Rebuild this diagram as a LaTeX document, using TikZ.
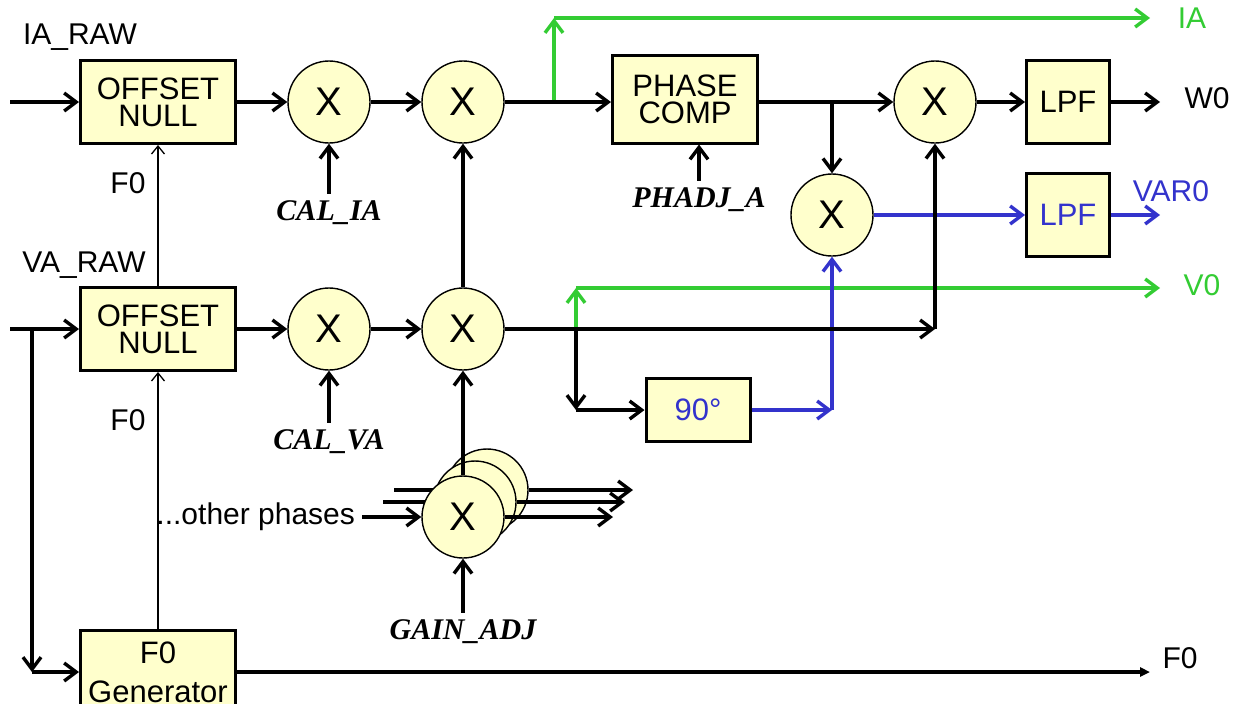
\documentclass[tikz,border=0pt]{standalone}
\usepackage{fontspec}
\setmainfont{Liberation Sans}
\newfontfamily\serifbi{Liberation Serif}
\usetikzlibrary{arrows.meta, positioning, calc, backgrounds}
\definecolor{blockfill}{HTML}{FFFFCC}
\definecolor{siggreen}{HTML}{33CC33}
\definecolor{sigblue}{HTML}{3333CC}
\newcommand{\param}[1]{{\serifbi\bfseries\itshape #1}}

\begin{document}
\begin{tikzpicture}[x=0.5pt, y=-0.5pt, font=\fontsize{15}{18}\selectfont,
  block/.style={draw, line width=1.5pt, fill=blockfill, align=center,
    inner sep=0pt, minimum width=77.5pt, minimum height=41.5pt,
    font=\fontsize{15.5}{13.5}\selectfont},
  mult/.style={circle, draw, line width=0.7pt, fill=blockfill, inner sep=0pt,
    minimum size=41pt, font=\fontsize{20}{20}\selectfont},
  sig/.style={line width=1.9pt,
    -{Straight Barb[length=6pt, width=9pt, line width=1.7pt]}},
  gsig/.style={sig, siggreen},
  bsig/.style={sig, sigblue},
  thinsig/.style={line width=0.65pt,
    -{Straight Barb[length=4pt, width=6.5pt, line width=0.65pt]}},
  outsig/.style={line width=1.9pt, -{Triangle[length=5pt, width=4.5pt]}}]
  \useasboundingbox (0,0) rectangle (1242,703);
  \clip (0,0) rectangle (1242,703);

  \node (iaRaw) at (80,37) {IA\_RAW};
  \node (vaRaw) at (84,265) {VA\_RAW};
  \node[block] (offI) at (158,102) {OFFSET\\NULL};
  \node[block] (offV) at (158,329) {OFFSET\\NULL};
  \node[block, font=\fontsize{15.5}{19.5}\selectfont] (f0Gen) at (158,672) {F0\\Generator};
  \node (f0a) at (128,183) {F0};
  \node (f0b) at (128,420) {F0};
  \node[mult] (calI) at (329,102) {X};
  \node[mult] (calV) at (329,329) {X};
  \node (calIa) at (329,213) {\param{CAL\_IA}};
  \node (calVa) at (329,442) {\param{CAL\_VA}};
  \node[mult] (gainI) at (463,102) {X};
  \node[mult] (gainV) at (463,329) {X};
  \node[mult] (ph3) at (487,490) {};
  \node[mult] (ph2) at (475,502) {};
  \node[mult] (gainA) at (463,517) {X};
  \node[anchor=east] (others) at (362,517) {...other phases};
  \node (gainAdj) at (463,632) {\param{GAIN\_ADJ}};
  \node[block, minimum width=72.5pt, minimum height=44pt] (phc) at (685,99) {PHASE\\COMP};
  \node (phAdj) at (699,200) {\param{PHADJ\_A}};
  \node[block, minimum width=52pt, minimum height=31.5pt, text=sigblue] (shift) at (698,410) {90°};
  \node[mult] (mulW) at (935,102) {X};
  \node[mult] (mulV) at (832,215) {X};
  \node[block, minimum width=41.5pt] (lpfW) at (1068,102) {LPF};
  \node[block, minimum width=41.5pt, text=sigblue] (lpfV) at (1068,215) {LPF};
  \node[text=siggreen] (ia) at (1192,18) {IA};
  \node (w0) at (1207,98) {W0};
  \node[text=sigblue] (var0) at (1171,191) {VAR0};
  \node[text=siggreen] (v0) at (1202,285) {V0};
  \node (f0c) at (1180,658) {F0};

  \coordinate (inI) at (10,102);
  \coordinate (inV) at (10,329);
  \coordinate (tapF) at (32,329);
  \coordinate (tapI) at (554,102);
  \coordinate (iaOut) at (1150,18);
  \coordinate (tapV) at (576,329);
  \coordinate (v0Out) at (1160,288);
  \coordinate (tapW) at (832,102);
  \coordinate (joinW) at (935,329);
  \coordinate (w0Out) at (1160,102);
  \coordinate (var0Out) at (1160,215);
  \coordinate (f0Out) at (1150,672);
  \coordinate (in3) at (394,490);
  \coordinate (in2) at (383,502);
  \coordinate (out3) at (633,490);
  \coordinate (out2) at (625,502);
  \coordinate (outA) at (613,517);

  \begin{scope}[on background layer]
    \draw[line width=1.9pt] (in3) -- (ph3.center);
    \draw[line width=1.9pt] (in2) -- (ph2.center);
  \end{scope}

  \draw[gsig] (tapI) -- (tapI |- iaOut);
  \draw[gsig] (tapI |- iaOut) -- (iaOut);
  \draw[gsig] (tapV) -- (tapV |- v0Out);
  \draw[gsig] (tapV |- v0Out) -- (v0Out);

  \draw[bsig] (mulV) -- (lpfV);
  \draw[bsig] (lpfV) -- (var0Out);
  \draw[bsig] (shift) -- (shift -| mulV);
  \draw[bsig] (shift -| mulV) -- (mulV);

  \draw[sig] (inI) -- (offI);
  \draw[sig] (offI) -- (calI);
  \draw[sig] (calI) -- (gainI);
  \draw[sig] (calIa) -- (calI);
  \draw[sig] (gainI) -- (gainI -| phc.west);
  \draw[sig] (phAdj) -- (phAdj |- phc.south);
  \draw[sig] (phc.east |- mulW) -- (mulW);
  \draw[sig] (tapW) -- (mulV);
  \draw[sig] (mulW) -- (lpfW);
  \draw[sig] (lpfW) -- (w0Out);
  \draw[sig] (inV) -- (offV);
  \draw[sig] (offV) -- (calV);
  \draw[sig] (calV) -- (gainV);
  \draw[sig] (calVa) -- (calV);
  \draw[sig] (gainV) -- (gainI);
  \draw[sig] (gainV) -- (joinW);
  \draw[sig] (joinW) -- (mulW);
  \draw[sig] (tapV) -- (tapV |- shift);
  \draw[sig] (tapV |- shift) -- (shift);
  \draw[sig] (others) -- (gainA);
  \draw[sig] (gainAdj) -- (gainA);
  \draw[sig] (gainA) -- (gainV);
  \draw[sig] (ph3) -- (out3);
  \draw[sig] (ph2) -- (out2);
  \draw[sig] (gainA) -- (outA);
  \draw[sig] (tapF) -- (tapF |- f0Gen);
  \draw[sig] (tapF |- f0Gen) -- (f0Gen);
  \draw[thinsig] (f0Gen) -- (offV);
  \draw[thinsig] (offV) -- (offI);
  \draw[outsig] (f0Gen) -- (f0Out);
\end{tikzpicture}
\end{document}
